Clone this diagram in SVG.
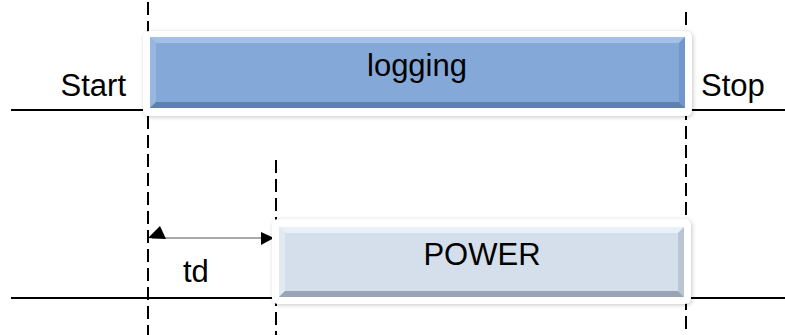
<svg xmlns="http://www.w3.org/2000/svg" width="785" height="335" viewBox="0 0 785 335">
<defs>
<filter id="sh" x="-5%" y="-20%" width="110%" height="140%">
<feDropShadow dx="1" dy="1" stdDeviation="2" flood-color="#000" flood-opacity="0.22"/>
</filter>
<linearGradient id="gTop" x1="0" y1="0" x2="0" y2="1"><stop offset="0" stop-color="#a9c4e8"/><stop offset="1" stop-color="#92b3df"/></linearGradient>
</defs>
<style>
.ln{stroke:#000;stroke-width:2;fill:none}
.dash{stroke:#000;stroke-width:2;stroke-dasharray:13 6;fill:none}
.frame{fill:#fff;filter:url(#sh)}
.t{font-family:"Liberation Sans",Arial,sans-serif;font-size:31px;fill:#000}
</style>
<g id="connectors">
<line class="ln" x1="11" y1="110" x2="145" y2="110"/>
<line class="ln" x1="690" y1="110" x2="785" y2="110"/>
<line class="ln" x1="11" y1="298" x2="274" y2="298"/>
<line class="ln" x1="690" y1="298" x2="785" y2="298"/>
<line class="dash" x1="148" y1="2" x2="148" y2="335"/>
<line class="dash" x1="686" y1="12" x2="686" y2="335"/>
<line class="dash" x1="276" y1="160" x2="276" y2="335"/>
<line x1="152" y1="238" x2="262" y2="238" stroke="#8c8c8c" stroke-width="1.5"/>
<polygon points="148,238 160,226 166,239" fill="#000"/>
<polygon points="261,232 261,245 274,238" fill="#000"/>
</g>
<g id="logging">
<rect class="frame" x="143" y="31" width="549" height="85" rx="6"/>
<rect x="150" y="37" width="535" height="71" fill="#84a9d9"/>
<polygon points="150,37 685,37 679,43 156,43" fill="#a3c0e6"/>
<polygon points="150,37 156,43 156,102 150,108" fill="#97b7e1"/>
<polygon points="685,37 679,43 679,102 685,108" fill="#7197c8"/>
<polygon points="150,108 685,108 679,102 156,102" fill="#5d81b0"/>
<text class="t" x="417" y="76" text-anchor="middle">logging</text>
</g>
<g id="power">
<rect class="frame" x="272" y="219" width="419" height="85" rx="6"/>
<rect x="279" y="227" width="405" height="70" fill="#d4dfeb"/>
<polygon points="279,227 684,227 678,233 285,233" fill="#e9f0f8"/>
<polygon points="279,227 285,233 285,291 279,297" fill="#e1e9f3"/>
<polygon points="684,227 678,233 678,291 684,297" fill="#b9c5d3"/>
<polygon points="279,297 684,297 678,291 285,291" fill="#98a5b5"/>
<text class="t" x="482" y="265" text-anchor="middle">POWER</text>
</g>
<g id="start"><text class="t" x="126" y="96" text-anchor="end">Start</text></g>
<g id="stop"><text class="t" x="701" y="96">Stop</text></g>
<g id="td"><text class="t" x="183" y="282">td</text></g>
</svg>
